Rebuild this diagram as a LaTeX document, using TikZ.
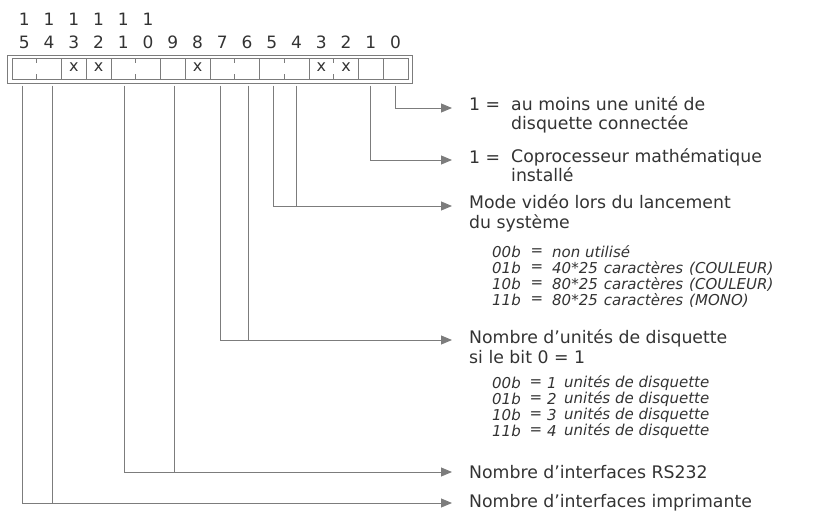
\documentclass[tikz,border=0pt]{standalone}
\usepackage{fontspec}
\setmainfont{DejaVu Sans}
\usetikzlibrary{arrows.meta}
\definecolor{ink}{HTML}{333333}
\definecolor{wire}{HTML}{7C7C7C}
\begin{document}
\begin{tikzpicture}[x=1pt,y=-1pt,
  wire/.style={draw=wire, line width=0.9pt},
  arr/.style={wire, -{Triangle[length=11pt,width=9pt]}},
  boxline/.style={draw=wire, line width=0.8pt},
  cell/.style={minimum width=24.75pt, minimum height=20pt, inner sep=0pt, text=ink, font=\fontsize{16}{16}\selectfont},
  bitnum/.style={inner sep=0pt, text=ink, font=\fontsize{17}{17}\selectfont},
  lbl/.style={anchor=west, inner sep=0pt, text=ink, font=\fontsize{17.3}{19}\selectfont},
  tab/.style={inner sep=0pt, text=ink, font=\fontsize{15}{16}\selectfont\itshape},
]
\useasboundingbox (0,0) rectangle (823,517);

% register box
\draw[boxline] (7,55) rectangle (412,83);
\draw[boxline] (12,58) rectangle (408,79);
\foreach \b in {0,...,15}{
  \node[cell] (c\b) at ({12+24.75*(15-\b+0.5)},68.5) {};
}
% full dividers
\foreach \k in {2,3,4,6,7,8,10,12,14,15}{
  \draw[boxline] ({12+24.75*\k},58) -- ({12+24.75*\k},79);
}
% partial (tick) dividers
\foreach \k in {1,5,9,11,13}{
  \draw[boxline] ({12+24.75*\k},58) -- ({12+24.75*\k},63);
  \draw[boxline] ({12+24.75*\k},74) -- ({12+24.75*\k},79);
}
% crosses
\foreach \b in {13,12,8,3,2}{
  \node[cell] (x\b) at ([yshift=1pt]c\b.center) {x};
}
% bit numbers
\foreach \b in {15,14,13,12,11,10}{
  \node[bitnum] (h\b) at (c\b.center |- 0,19) {1};
}
\foreach \b/\d in {15/5,14/4,13/3,12/2,11/1,10/0,9/9,8/8,7/7,6/6,5/5,4/4,3/3,2/2,1/1,0/0}{
  \node[bitnum] (n\b) at (c\b.center |- 0,42) {\d};
}

% arrow tip coordinates
\coordinate (a0) at (452,108);
\coordinate (a1) at (452,160);
\coordinate (a54) at (452,206);
\coordinate (a76) at (452,340);
\coordinate (a119) at (452,472);
\coordinate (a1514) at (452,503);

% connectors
\draw[arr] ([yshift=-7pt]c0.south) |- (a0);
\draw[arr] ([yshift=-7pt]c1.south) |- (a1);
\draw[arr] ([yshift=-7pt,xshift=2pt]c5.south) |- (a54);
\draw[wire] ([yshift=-7pt]c4.south) -- (c4.south |- a54);
\draw[arr] ([yshift=-7pt,xshift=-2pt]c7.south) |- (a76);
\draw[wire] ([yshift=-7pt,xshift=1pt]c6.south) -- ([xshift=1pt]c6.south |- a76);
\draw[arr] ([yshift=-7pt,xshift=1pt]c11.south) |- (a119);
\draw[wire] ([yshift=-7pt,xshift=1.5pt]c9.south) -- ([xshift=1.5pt]c9.south |- a119);
\draw[arr] ([yshift=-7pt,xshift=-1.5pt]c15.south) |- (a1514);
\draw[wire] ([yshift=-7pt,xshift=3.5pt]c14.south) -- ([xshift=3.5pt]c14.south |- a1514);

% texts
\node[lbl] (t0) at (469,104) {1 =};
\node[lbl] (t0b) at (511,104) {au moins une unité de};
\node[lbl] (t0c) at (511,124) {disquette connectée};
\node[lbl] (t1) at (469,157) {1 =};
\node[lbl] (t1b) at (511,157) {Coprocesseur mathématique};
\node[lbl] (t1c) at (511,175) {installé};
\node[lbl] (t54) at (469,202) {Mode vidéo lors du lancement};
\node[lbl] (t54b) at (469,223) {du système};

\foreach \y/\c/\v in {252/00b/non utilisé,
                      268/01b/40*25\hspace{6pt}caractères\hspace{6pt}(COULEUR),
                      284/10b/80*25\hspace{6pt}caractères\hspace{6pt}(COULEUR),
                      300/11b/80*25\hspace{6pt}caractères\hspace{6pt}(MONO)}{
  \node[tab, anchor=east] (k\y) at (521,\y) {\c};
  \node[tab] (e\y) at (537,\y) {=};
  \node[tab, anchor=west] (v\y) at (552,\y) {\v};
}

\node[lbl] (t76) at (469,338) {Nombre d'unités de disquette};
\node[lbl] (t76b) at (469,357) {si le bit 0 = 1};

\foreach \y/\c/\n in {383/00b/1, 399/01b/2, 415/10b/3, 431/11b/4}{
  \node[tab, anchor=east] (k\y) at (521,\y) {\c};
  \node[tab] (e\y) at (536,\y) {=};
  \node[tab] (m\y) at (552,\y) {\n};
  \node[tab, anchor=west] (v\y) at (564,\y) {unités de disquette};
}

\node[lbl] (t119) at (469,472) {Nombre d'interfaces RS232};
\node[lbl] (t1514) at (469,503) {Nombre d'interfaces imprimante};
\end{tikzpicture}
\end{document}
